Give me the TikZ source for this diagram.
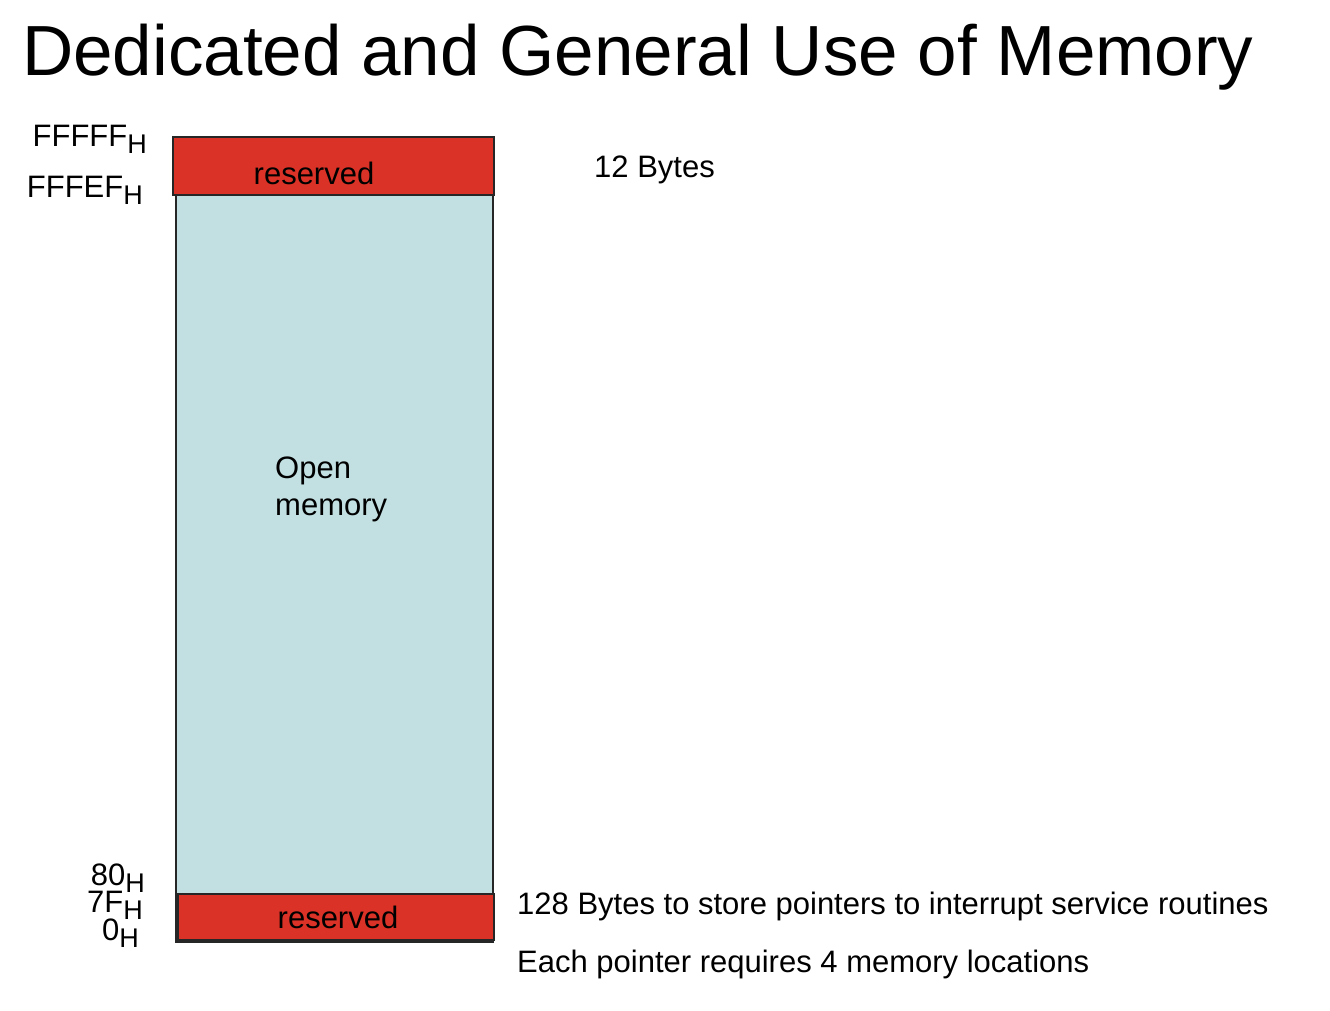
\documentclass[tikz,border=0pt]{standalone}
\usepackage{fontspec}
\setmainfont{Liberation Sans}
\definecolor{resred}{HTML}{DA3226}
\definecolor{openblue}{HTML}{C2E0E2}
\newcommand{\hsub}{\raisebox{-0.45ex}{\fontsize{27}{27}\selectfont H}}
\begin{document}
\begin{tikzpicture}[x=1pt,y=-1pt,
  lbl/.style={inner sep=0pt,font=\fontsize{31}{36}\selectfont},
  addr/.style={lbl,anchor=base east},
  box/.style={draw=black!85,line width=1.5pt,inner sep=0pt}]
\useasboundingbox (0,0) rectangle (1330,1010);
\node[box,fill=openblue,minimum width=317,minimum height=747,anchor=north west] (openmem) at (175,194) {};
\node[box,fill=resred,minimum width=321,minimum height=58,anchor=north west] (topres) at (172,136) {};
\node[box,fill=resred,minimum width=316,minimum height=46,anchor=north west] (botres) at (177,893) {};
\node[inner sep=0pt,anchor=base west,font=\fontsize{71}{80}\selectfont] (title) at (22,75) {Dedicated and General Use of Memory};
\node[lbl,anchor=base] (t1) at (314,184) {reserved};
\node[lbl,anchor=base] (t2) at (338,928) {reserved};
\node[lbl,anchor=base west,align=left] (t3) at (275,478) {Open};
\node[lbl,anchor=base west,align=left] (t4) at (275,515) {memory};
\node[lbl,anchor=base west] (t5) at (594,177) {12 Bytes};
\node[lbl,anchor=base west] (t6) at (517,914) {128 Bytes to store pointers to interrupt service routines};
\node[lbl,anchor=base west] (t7) at (517,972) {Each pointer requires 4 memory locations};
\node[addr] (a1) at (147,146) {FFFFF\hsub};
\node[addr] (a2) at (143,197) {FFFEF\hsub};
\node[addr] (a3) at (145,885) {80\hsub};
\node[addr] (a4) at (143,912) {7F\hsub};
\node[addr] (a5) at (139,940) {0\hsub};
\end{tikzpicture}
\end{document}
